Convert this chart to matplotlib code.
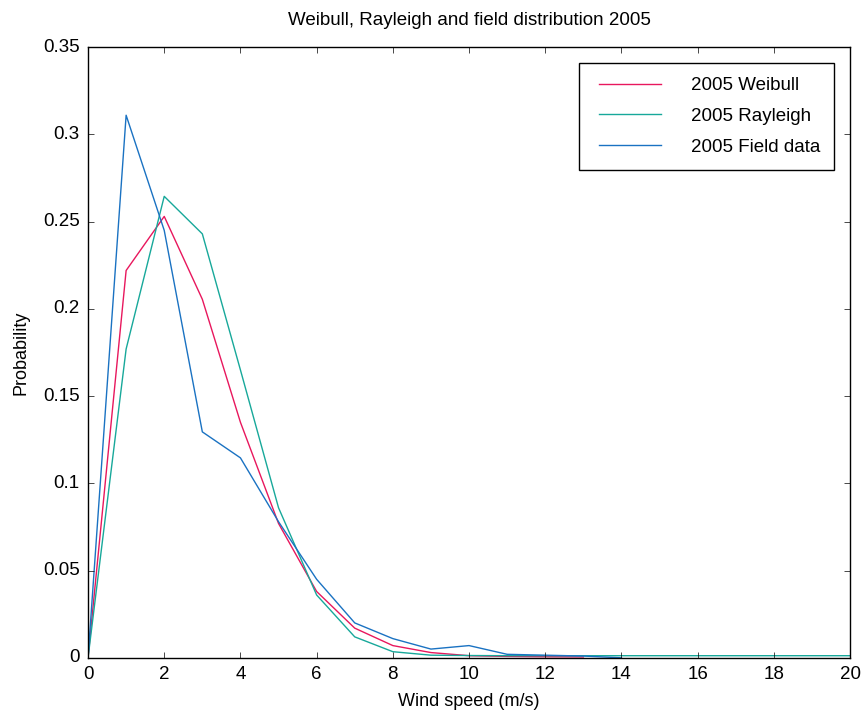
import matplotlib
matplotlib.use("Agg")
import matplotlib.pyplot as plt
from matplotlib.ticker import FuncFormatter

plt.style.use('classic')
plt.rcParams['font.family'] = ['Liberation Sans', 'DejaVu Sans']

# wind speed bins (m/s)
speed = [0, 1, 2, 3, 4, 5, 6, 7, 8, 9, 10, 11, 12, 13, 14, 15, 16, 17, 18, 19, 20]

weibull = [0, 0.222, 0.253, 0.2055, 0.135, 0.077, 0.038, 0.017, 0.007, 0.003,
           0.0012, 0.0008, 0.0006, 0.0005]
rayleigh = [0, 0.177, 0.2645, 0.243, 0.165, 0.086, 0.036, 0.012, 0.0035, 0.0015,
            0.0013, 0.0012, 0.0012, 0.0012, 0.0012, 0.0012, 0.0012, 0.0012,
            0.0012, 0.0012, 0.0012]
field = [0, 0.311, 0.245, 0.1295, 0.1146, 0.078, 0.045, 0.020, 0.011, 0.005,
         0.007, 0.002, 0.0015, 0.001, 0]

fig = plt.figure(figsize=(8.63, 7.15), dpi=100, facecolor='white')
ax = fig.add_axes([0.102, 0.080, 0.883, 0.854])
ax.set_facecolor('white')

ax.plot(speed[:len(weibull)], weibull, color='#e8175d', lw=1.0, label='2005 Weibull')
ax.plot(speed[:len(rayleigh)], rayleigh, color='#17a89a', lw=1.0, label='2005 Rayleigh')
ax.plot(speed[:len(field)], field, color='#1a72c2', lw=1.0, label='2005 Field data')

ax.set_xlim(0, 20)
ax.set_ylim(0, 0.35)
ax.set_xticks(range(0, 21, 2))
ax.set_yticks([0, 0.05, 0.1, 0.15, 0.2, 0.25, 0.3, 0.35])
ax.yaxis.set_major_formatter(FuncFormatter(lambda v, p: '%g' % round(v, 2)))
ax.tick_params(labelsize=13.5, pad=6)

ax.set_xlabel('Wind speed (m/s)', fontsize=13, labelpad=7)
ax.set_ylabel('Probability', fontsize=13, labelpad=10)
ax.set_title('Weibull, Rayleigh and field distribution 2005', fontsize=13.5, pad=16)

leg = ax.legend(loc='upper right', fontsize=13.5, handlelength=3.9, handletextpad=1.3,
                labelspacing=0.72, borderpad=0.75, borderaxespad=0.85,
                frameon=True, fancybox=False)
leg.get_frame().set_edgecolor('black')

fig.savefig('out.png', dpi=100, facecolor='white')
